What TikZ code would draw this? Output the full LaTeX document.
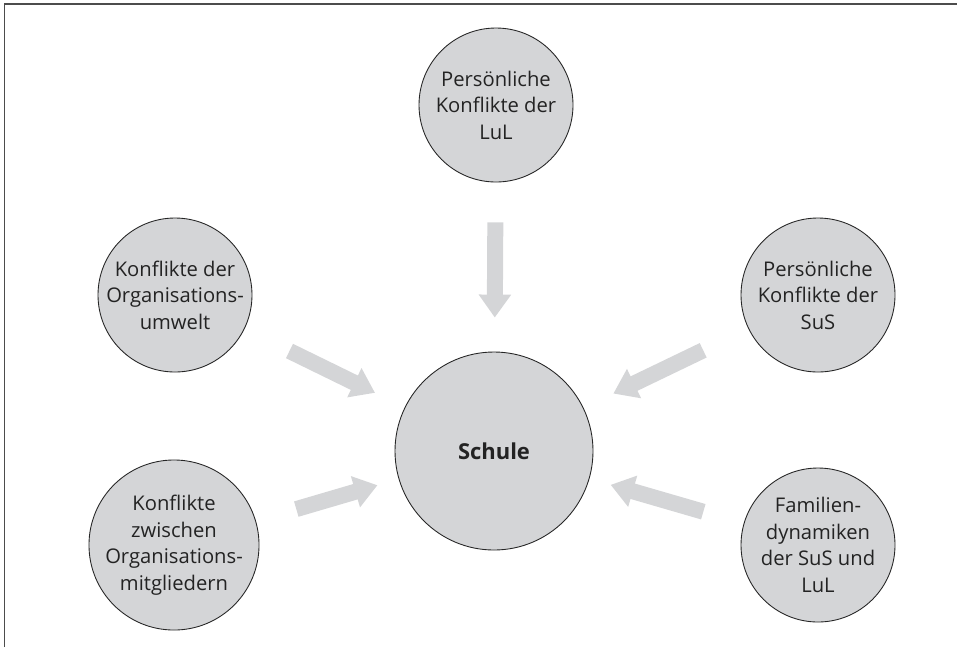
\documentclass[tikz,border=0pt]{standalone}
\usepackage{fontspec}
\setmainfont{Open Sans}
\usetikzlibrary{arrows.meta}
\definecolor{circfill}{RGB}{212,213,215}
\definecolor{arrowgrey}{RGB}{212,213,215}
\definecolor{textgrey}{RGB}{35,35,35}
\begin{document}
\begin{tikzpicture}[x=0.2mm, y=-0.2mm,
		topic/.style={circle, draw=black!85, line width=0.5pt, fill=circfill, minimum size=30.8mm, inner sep=0pt, align=center, text=textgrey, font=\fontsize{11.5}{15.1}\selectfont},
		bigarrow/.style={draw=arrowgrey, line width=3.2mm, -{Triangle[length=4.6mm, width=6.2mm]}}]
		\useasboundingbox (0,0) rectangle (957,647);
		\draw[black!70, line width=1.1pt] (4.5,647) -- (4.5,4) -- (957,4);
		\node[topic, minimum size=39.6mm, font=\fontsize{12.5}{15.1}\selectfont\bfseries] (schule) at (494,451) {Schule};
		\node[topic] (lul) at (496,105) {Persönliche\\Konflikte der\\LuL};
		\node[topic] (umwelt) at (175,295) {Konflikte der\\Organisations-\\umwelt};
		\node[topic] (mitglieder) at (174,545) {Konflikte\\zwischen\\Organisations-\\mitgliedern};
		\node[topic] (sus) at (818,295) {Persönliche\\Konflikte der\\SuS};
		\node[topic] (familie) at (818,545) {Familien-\\dynamiken\\der SuS und\\LuL};
		\draw[bigarrow, shorten <=8mm, shorten >=6.8mm] (lul) -- (schule);
		\draw[bigarrow, shorten <=10mm, shorten >=6.6mm] (umwelt) -- (schule);
		\draw[bigarrow, shorten <=8.4mm, shorten >=4.4mm] (mitglieder) -- (schule);
		\draw[bigarrow, shorten <=10mm, shorten >=6.6mm] (sus) -- (schule);
		\draw[bigarrow, shorten <=8.4mm, shorten >=4.4mm] (familie) -- (schule);
	\end{tikzpicture}
\end{document}
